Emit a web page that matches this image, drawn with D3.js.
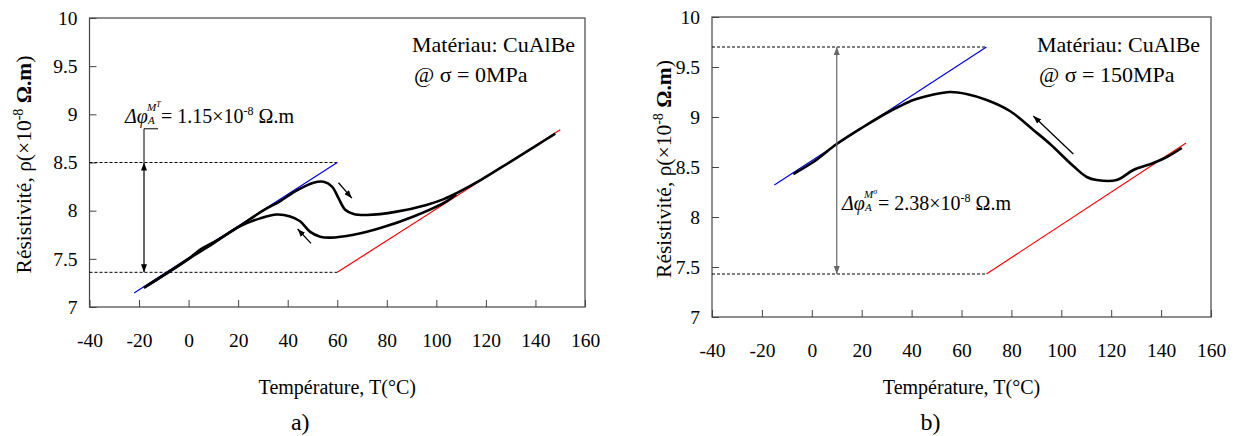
<!DOCTYPE html>
<html>
<head>
<meta charset="utf-8">
<script src="https://cdn.jsdelivr.net/npm/d3@7"></script>
<style>
  body { margin: 0; background: #fff; }
  text { font-family: "Liberation Serif", "Times New Roman", serif; fill: #000; }
</style>
</head>
<body>
<svg id="chart" width="1235" height="436"></svg>
<script>
// Axis ticks, shared by both panels
var xTicks = [-40, -20, 0, 20, 40, 60, 80, 100, 120, 140, 160];
var yTicks = [7, 7.5, 8, 8.5, 9, 9.5, 10];

// Panel a) : sigma = 0 MPa  [T (°C), rho (x1e-8 Ohm.m)]
var heatA = [[-18, 7.20], [-10, 7.33], [0, 7.50], [5, 7.60], [10, 7.67], [20, 7.83], [30, 8.00],
             [37, 8.10], [43.7, 8.21], [50.4, 8.29], [54.5, 8.30], [57.9, 8.25], [60.5, 8.13],
             [63.2, 8.01], [66.6, 7.965], [72, 7.955], [84, 7.99], [96, 8.06], [103, 8.12],
             [108, 8.18], [118, 8.32], [130, 8.51], [140, 8.67], [148, 8.80]];
var coolA = [[108, 8.17], [104.3, 8.10], [90.8, 7.94], [77.4, 7.82], [66.6, 7.75], [57.2, 7.72],
             [53.1, 7.73], [49.1, 7.78], [45, 7.89], [41, 7.94], [35.6, 7.96], [28.9, 7.92],
             [20, 7.83], [10, 7.66], [0, 7.50], [-10, 7.33], [-18, 7.20]];
var blueA = [[-22, 7.145], [60, 8.5]];
var redA = [[60, 7.36], [150, 8.84]];
var levelsA = [8.5, 7.36];
var levelEndA = 60;
var gapTA = -18;
var dirA = [[[60.5, 8.29], [65.9, 8.13]], [[49.4, 7.66], [44, 7.81]]];

// Panel b) : sigma = 150 MPa
var coolB = [[148.3, 8.69], [142.3, 8.60], [136.9, 8.54], [128.9, 8.47], [122.2, 8.37], [114.2, 8.37],
             [110.2, 8.40], [104.8, 8.51], [95.5, 8.73], [88.8, 8.87], [79.4, 9.06], [70.1, 9.17],
             [62, 9.23], [55.4, 9.25], [48, 9.22], [40.7, 9.17], [35.4, 9.11], [30, 9.04],
             [20.6, 8.90], [10, 8.73], [0.6, 8.55], [-7.4, 8.43]];
var blueB = [[-15, 8.32], [70, 9.7]];
var redB = [[70, 7.43], [150, 8.74]];
var levelsB = [9.7, 7.43];
var levelEndB = 70;
var gapTB = 10;
var dirB = [[[104.8, 8.63], [88.8, 9.01]]];

var svg = d3.select("#chart");

var defs = svg.append("defs");
function addMarker(id, color) {
    defs.append("marker")
        .attr("id", id)
        .attr("viewBox", "0 0 8 6")
        .attr("refX", 8).attr("refY", 3)
        .attr("markerWidth", 8).attr("markerHeight", 6)
        .attr("markerUnits", "userSpaceOnUse")
        .attr("orient", "auto-start-reverse")
        .append("path")
        .attr("d", "M0,0L8,3L0,6Z")
        .attr("fill", color);
}
addMarker("headBlack", "#000");
addMarker("headGray", "#666");

function drawPanel(box, p) {
    var x = d3.scaleLinear().domain([-40, 160]).range([box.left, box.right]);
    var y = d3.scaleLinear().domain([7, 10]).range([box.bottom, box.top]);
    var g = svg.append("g");

    var line = d3.line().x(d => x(d[0])).y(d => y(d[1]));
    var smooth = d3.line().x(d => x(d[0])).y(d => y(d[1])).curve(d3.curveCatmullRom.alpha(0.5));

    // axes, ticks pointing inward
    var xAxis = g.append("g")
        .attr("transform", `translate(0, ${box.bottom})`)
        .call(d3.axisBottom(x).tickValues(xTicks).tickSize(-7).tickPadding(p.xPad).tickFormat(d => String(d)));
    var yAxis = g.append("g")
        .attr("transform", `translate(${box.left}, 0)`)
        .call(d3.axisLeft(y).tickValues(yTicks).tickSize(-7).tickPadding(12).tickFormat(d => String(d)));
    [xAxis, yAxis].forEach(a => {
        a.select(".domain").remove();
        a.selectAll("line").attr("stroke", "#444");
        a.selectAll("text").style("font-family", '"Liberation Serif", serif').style("font-size", "19.5px").attr("fill", "#000");
    });

    // frame of plot area
    g.append("rect")
        .attr("x", box.left).attr("y", box.top)
        .attr("width", box.right - box.left).attr("height", box.bottom - box.top)
        .attr("fill", "none").attr("stroke", "#444").attr("stroke-width", 1.2);

    // dashed reference levels
    p.levels.forEach(v => {
        g.append("path")
            .attr("d", line([[-40, v], [p.levelEnd, v]]))
            .attr("stroke", "#000").attr("stroke-width", 1)
            .attr("stroke-dasharray", "3,2").attr("fill", "none");
    });

    // tangent lines
    g.append("path").attr("d", line(p.blue)).attr("stroke", "#0000ee").attr("stroke-width", 1.2).attr("fill", "none");
    g.append("path").attr("d", line(p.red)).attr("stroke", "#ff0000").attr("stroke-width", 1.2).attr("fill", "none");

    // measured curves
    p.curves.forEach(c => {
        g.append("path").attr("d", smooth(c))
            .attr("stroke", "#000").attr("stroke-width", 2.6)
            .attr("stroke-linejoin", "round").attr("fill", "none");
    });

    // double arrow for the gap
    g.append("line")
        .attr("x1", x(p.gapT)).attr("x2", x(p.gapT))
        .attr("y1", y(p.levels[0])).attr("y2", y(p.levels[1]))
        .attr("stroke", p.gapColor).attr("stroke-width", 1.2)
        .attr("marker-start", `url(#${p.gapHead})`).attr("marker-end", `url(#${p.gapHead})`);
    if (p.leader) {
        g.append("path").attr("d", line(p.leader))
            .attr("stroke", "#000").attr("stroke-width", 1).attr("fill", "none");
    }

    // direction arrows
    p.dirs.forEach(a => {
        g.append("line")
            .attr("x1", x(a[0][0])).attr("y1", y(a[0][1]))
            .attr("x2", x(a[1][0])).attr("y2", y(a[1][1]))
            .attr("stroke", "#000").attr("stroke-width", 1.3)
            .attr("marker-end", "url(#headBlack)");
    });

    // material label
    g.append("text").attr("x", p.matX).attr("y", 52).style("font-size", "22px").text("Matériau: CuAlBe");
    g.append("text").attr("x", p.matX + 2).attr("y", 82).style("font-size", "22px").text(p.stress);

    // delta rho annotation: main part, then the stacked sub/superscript
    var t = g.append("text").attr("y", p.annY).style("font-size", "20px");
    t.append("tspan").attr("x", p.annX).style("font-style", "italic").text("Δφ");
    t.append("tspan").attr("x", p.annX + 36).text("= " + p.gapValue + "×10");
    t.append("tspan").attr("dy", -8).style("font-size", "12px").text("-8");
    t.append("tspan").attr("dy", 8).text(" Ω.m");
    g.append("text").attr("x", p.annX + 23).attr("y", p.annY + 1)
        .style("font-size", "11px").style("font-style", "italic").text("A");
    var sup = g.append("text").attr("x", p.annX + 22).attr("y", p.annY - 12)
        .style("font-size", "11px").style("font-style", "italic");
    sup.append("tspan").text("M");
    sup.append("tspan").attr("dy", -4).style("font-size", "8px").text(p.supSym);

    // axis titles
    var cx = (box.left + box.right) / 2;
    g.append("text").attr("x", cx).attr("y", 394).attr("text-anchor", "middle")
        .style("font-size", "20px").text("Température, T(°C)");
    var yl = g.append("text")
        .attr("transform", `translate(${p.yLabX}, ${(box.top + box.bottom) / 2 + 2}) rotate(-90)`)
        .attr("text-anchor", "middle").style("font-size", "21.5px");
    yl.append("tspan").text("Résistivité, ρ(×10");
    yl.append("tspan").attr("dy", -8).style("font-size", "14px").text("-8");
    yl.append("tspan").attr("dy", 8).style("font-weight", "bold").text(" Ω.m");
    yl.append("tspan").text(")");

    g.append("text").attr("x", cx + p.capDx).attr("y", 430).attr("text-anchor", "middle")
        .style("font-size", "24px").text(p.caption);
}

drawPanel({left: 89.5, right: 585, top: 18, bottom: 307}, {
    xPad: 26, curves: [heatA, coolA], blue: blueA, red: redA,
    levels: levelsA, levelEnd: levelEndA, gapT: gapTA, gapColor: "#000", gapHead: "headBlack",
    leader: [[-12.3, 8.85], [-18, 8.85], [-18, 8.5]],
    dirs: dirA, matX: 412, stress: "@ σ = 0MPa",
    annX: 125, annY: 123, supSym: "T", gapValue: "1.15",
    yLabX: 31, caption: "a)", capDx: -37
});

drawPanel({left: 712, right: 1211, top: 17, bottom: 317}, {
    xPad: 26, curves: [coolB], blue: blueB, red: redB,
    levels: levelsB, levelEnd: levelEndB, gapT: gapTB, gapColor: "#666", gapHead: "headGray",
    leader: null,
    dirs: dirB, matX: 1037, stress: "@ σ = 150MPa",
    annX: 842, annY: 210, supSym: "σ", gapValue: "2.38",
    yLabX: 671, caption: "b)", capDx: -31
});
</script>
</body>
</html>
